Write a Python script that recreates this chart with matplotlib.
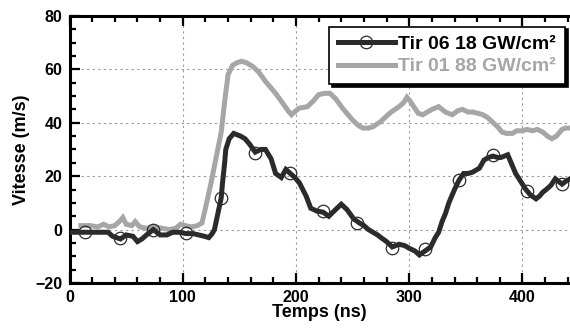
#!/usr/bin/env python3
"""
Vitesse de surface vs temps pour deux tirs laser
"""

import matplotlib
matplotlib.use('Agg')
import matplotlib.pyplot as plt
from matplotlib.lines import Line2D
from matplotlib.ticker import MultipleLocator

# Tir 06 (18 GW/cm2) - dark trace
t_tir06 = [0, 10, 20, 30, 34, 38, 45, 50, 56, 60, 64, 68, 74, 80, 86, 91, 97,
           103, 109, 114, 119, 123, 126, 128, 130, 132, 134, 135, 137, 138,
           141, 145, 151, 155, 159, 164, 169, 173, 178, 182, 187, 191, 195,
           199, 203, 209, 213, 218, 224, 229, 235, 240, 245, 251, 256, 260,
           264, 268, 272, 275, 280, 285, 291, 296, 300, 305, 309, 314, 319,
           323, 326, 329, 332, 335, 340, 344, 348, 352, 356, 362, 366, 370,
           374, 378, 381, 384, 387, 391, 394, 397, 400, 403, 407, 412, 415,
           418, 421, 425, 429, 432, 435, 438, 442]
v_tir06 = [-1, -1, -1, -1, -1, -2.5, -3.5, -2, -2.5, -4.5, -3.5, -2, 0, -2, -2,
           -1, -1, -1.5, -1.5, -2, -2.5, -3, -1.5, 0, 4, 8, 12, 17, 25, 30,
           34, 36, 35, 34, 32, 29, 30, 30, 26.5, 21, 19.5, 22.5, 21, 19.5,
           17.5, 12.5, 8, 7, 6.5, 5, 7.5, 9.5, 7.5, 4, 2.5, 1.5, 0, -1, -2,
           -3, -4.5, -6.5, -5.5, -6, -7, -8, -9.5, -8, -6.5, -3, -1, 3, 6,
           10, 15, 18.5, 21, 21, 21.5, 23, 26, 27, 27.5, 27, 27, 27.5, 28,
           24, 21, 19, 17, 15, 13, 11.5, 12.5, 14, 15, 16.5, 19, 18, 17, 18, 19]

# circle markers on the Tir 06 trace
t_mark = [14, 45, 74, 103, 134, 164, 195, 224, 254, 285, 314, 344, 374, 404, 435]
v_mark = [-1, -3, 0, -1.3, 12, 28.8, 21, 7, 2.6, -6.8, -7.4, 18.7, 27.8, 14.6, 17.1]

# Tir 01 (88 GW/cm2) - grey trace
t_tir01 = [10, 18, 25, 30, 35, 40, 44, 47, 50, 55, 58, 62, 68, 75, 82, 88, 94,
           98, 102, 108, 113, 117, 120, 125, 129, 134, 137, 140, 144, 148,
           152, 156, 162, 167, 173, 178, 182, 188, 193, 196, 200, 203, 210,
           215, 220, 225, 230, 235, 241, 246, 250, 255, 259, 264, 268, 275,
           280, 284, 291, 295, 298, 301, 304, 308, 312, 316, 320, 326, 332,
           338, 343, 347, 352, 356, 361, 365, 369, 373, 378, 382, 386, 391,
           395, 400, 404, 409, 413, 418, 422, 426, 430, 435, 438, 442]
v_tir01 = [1.5, 1.5, 1, 2, 1, 1.5, 3, 4.5, 2, 1.5, 3, 1, 0.5, 1, 0.5, 0, 0.5,
           2, 1.5, 1, 1.5, 2.5, 8, 17.5, 26, 36.5, 48, 58, 61.5, 62.5, 63,
           62.5, 61, 59, 55.5, 53, 51, 47.5, 44.5, 43, 44.5, 45.5, 46, 48,
           50.5, 51, 51, 49, 45.5, 43, 41, 39, 38, 38, 38.5, 40.5, 42.5, 44,
           46, 47.5, 49.5, 48, 46, 43.5, 43, 44, 45, 46, 44, 43, 44.5, 45,
           44, 44, 43.5, 43, 42, 40.5, 38.5, 36.5, 36, 36, 37, 37, 37.5, 37,
           37.5, 36.5, 35, 34, 35, 37.5, 38, 38]

DARK = '#2b2b2b'
GREY = '#a6a6a6'

plt.rcParams['font.family'] = ['Liberation Sans', 'DejaVu Sans']
plt.rcParams['font.weight'] = 'bold'

fig = plt.figure(figsize=(5.70, 3.31), dpi=100)
ax = fig.add_axes([0.122, 0.145, 0.878, 0.807])

ax.plot(t_tir01, v_tir01, color=GREY, lw=3.6, solid_joinstyle='miter', zorder=3)
ax.plot(t_tir06, v_tir06, color=DARK, lw=3.6, solid_joinstyle='miter', zorder=4)
ax.plot(t_mark, v_mark, ls='none', marker='o', ms=9, mfc='none',
        mec=DARK, mew=0.9, zorder=5)

ax.set_xlim(0, 442)
ax.set_ylim(-20, 80)
ax.xaxis.set_major_locator(MultipleLocator(100))
ax.xaxis.set_minor_locator(MultipleLocator(20))
ax.yaxis.set_major_locator(MultipleLocator(20))
ax.yaxis.set_minor_locator(MultipleLocator(5))

ax.grid(True, which='major', color='#9a9a9a', linestyle=(0, (2, 3)), linewidth=0.8)
ax.tick_params(which='both', direction='in', top=True, right=False, width=1.6,
               labelsize=11.5, pad=5)
ax.tick_params(which='major', length=7)
ax.tick_params(which='minor', length=4)
for side in ['left', 'bottom', 'top']:
    ax.spines[side].set_linewidth(2.2)
ax.spines['right'].set_visible(False)

ax.set_xlabel('Temps (ns)', fontsize=13, fontweight='bold', labelpad=-1)
ax.set_ylabel('Vitesse (m/s)', fontsize=13, fontweight='bold', labelpad=4)

handles = [
    Line2D([], [], color=DARK, lw=3.6, marker='o', ms=9, mfc='none', mec=DARK, mew=0.9),
    Line2D([], [], color=GREY, lw=3.6),
]
labels = ['Tir 06 18 GW/cm²', 'Tir 01 88 GW/cm²']
leg = ax.legend(handles, labels, loc='upper right', bbox_to_anchor=(0.99, 0.96),
                borderaxespad=0, fancybox=False, framealpha=1, edgecolor='black',
                shadow={'color': 'black', 'alpha': 1}, handlelength=2.9,
                handletextpad=0.2, labelspacing=0.25, borderpad=0.45,
                prop={'size': 14, 'weight': 'bold'})
leg.get_frame().set_linewidth(1.2)
leg.get_texts()[1].set_color(GREY)
leg.set_zorder(10)

fig.savefig('out.png', dpi=100)
